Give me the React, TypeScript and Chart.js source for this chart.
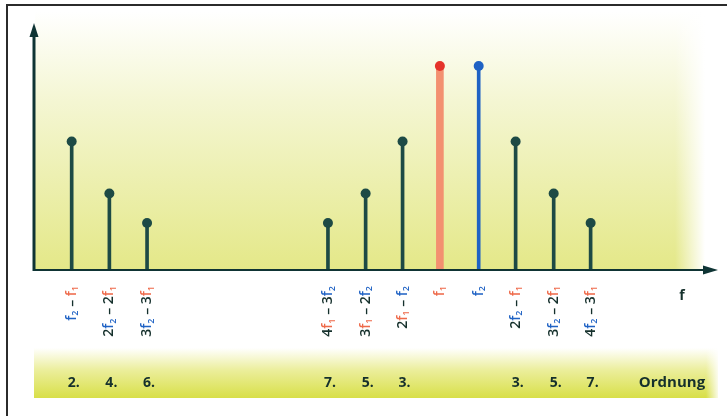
import React, { useEffect, useRef } from "react";
import { Chart, registerables } from "chart.js";

Chart.register(...registerables);

// ---- data ----
const productLabels = [
  "f2 – f1",
  "2f2 – 2f1",
  "3f2 – 3f1",
  "4f1 – 3f2",
  "3f1 – 2f2",
  "2f1 – f2",
  "f1",
  "f2",
  "2f2 – f1",
  "3f2 – 2f1",
  "4f2 – 3f1",
];
const xPositions = [1, 2, 3, 7.8, 8.8, 9.78, 10.77, 11.8, 12.78, 13.79, 14.77];
const amplitudes = [5.2, 3.1, 1.9, 1.9, 3.1, 5.2, 8.26, 8.26, 5.2, 3.1, 1.9];
const orders = ["2.", "4.", "6.", "7.", "5.", "3.", "", "", "3.", "5.", "7."];
const kinds = ["im", "im", "im", "im", "im", "im", "f1", "f2", "im", "im", "im"];
const orderTitle = "Ordnung";
const freqTitle = "f";
const xMax = 18.15;
const yMax = 10;

const DARK = "#1d4a45";
const RED_STEM = "#f39070";
const RED_DOT = "#e5332a";
const BLUE = "#1f62c4";
const TEXT_DARK = "#15302c";
const RED_TXT = "#ee6a4a";

function pointsFor(kind: string) {
  const pts: { x: number; y: number }[] = [];
  xPositions.forEach((x, i) => {
    if (kinds[i] === kind) pts.push({ x, y: amplitudes[i] });
  });
  return pts;
}

type Part = { t: string; c: string; sub?: boolean };
function parseLabel(s: string): Part[] {
  const parts: Part[] = [];
  for (let i = 0; i < s.length; i++) {
    const ch = s[i];
    if (ch === "f" && (s[i + 1] === "1" || s[i + 1] === "2")) {
      const col = s[i + 1] === "1" ? RED_TXT : BLUE;
      parts.push({ t: "f", c: col });
      parts.push({ t: s[i + 1], c: col, sub: true });
      i++;
    } else {
      parts.push({ t: ch, c: TEXT_DARK });
    }
  }
  return parts;
}

const decorPlugin = {
  id: "decor",
  beforeDraw(chart: any) {
    const ctx = chart.ctx as CanvasRenderingContext2D;
    const W = chart.width;
    const H = chart.height;
    const area = chart.chartArea;
    ctx.save();
    ctx.fillStyle = "#ffffff";
    ctx.fillRect(0, 0, W, H);

    // upper yellow background
    const x0 = area.left + 1;
    const g = ctx.createLinearGradient(0, 12, 0, area.bottom);
    g.addColorStop(0, "#ffffff");
    g.addColorStop(0.35, "#f4f6d2");
    g.addColorStop(1, "#e4e888");
    ctx.fillStyle = g;
    ctx.fillRect(x0, 12, 705 - x0, area.bottom - 12);
    const gr = ctx.createLinearGradient(675, 0, 705, 0);
    gr.addColorStop(0, "rgba(255,255,255,0)");
    gr.addColorStop(1, "rgba(255,255,255,1)");
    ctx.fillStyle = gr;
    ctx.fillRect(675, 12, 31, area.bottom - 12);

    // lower band
    const gb = ctx.createLinearGradient(0, 348, 0, 398);
    gb.addColorStop(0, "#ffffff");
    gb.addColorStop(0.45, "#ebee9a");
    gb.addColorStop(1, "#d8df48");
    ctx.fillStyle = gb;
    ctx.fillRect(area.left, 348, 718 - area.left, 50);
    const gbr = ctx.createLinearGradient(706, 0, 720, 0);
    gbr.addColorStop(0, "rgba(255,255,255,0)");
    gbr.addColorStop(1, "rgba(255,255,255,1)");
    ctx.fillStyle = gbr;
    ctx.fillRect(706, 348, 14, 50);

    // frame (top and left)
    ctx.strokeStyle = "#2b2b2b";
    ctx.lineWidth = 2;
    ctx.beginPath();
    ctx.moveTo(7, H);
    ctx.lineTo(7, 5);
    ctx.lineTo(W, 5);
    ctx.stroke();
    ctx.restore();
  },
  afterDatasetsDraw(chart: any) {
    const ctx = chart.ctx as CanvasRenderingContext2D;
    const area = chart.chartArea;
    const xs = chart.scales.x;
    ctx.save();
    // y axis with arrow
    ctx.strokeStyle = "#0f3434";
    ctx.fillStyle = "#0f3434";
    ctx.lineWidth = 3;
    ctx.beginPath();
    ctx.moveTo(area.left, area.bottom + 1);
    ctx.lineTo(area.left, area.top + 10);
    ctx.stroke();
    ctx.beginPath();
    ctx.moveTo(area.left, area.top);
    ctx.lineTo(area.left - 4.5, area.top + 14);
    ctx.lineTo(area.left + 4.5, area.top + 14);
    ctx.closePath();
    ctx.fill();
    // x axis with arrow
    ctx.lineWidth = 2;
    ctx.beginPath();
    ctx.moveTo(area.left, area.bottom);
    ctx.lineTo(area.right - 10, area.bottom);
    ctx.stroke();
    ctx.beginPath();
    ctx.moveTo(area.right, area.bottom);
    ctx.lineTo(area.right - 15, area.bottom - 4.5);
    ctx.lineTo(area.right - 15, area.bottom + 4.5);
    ctx.closePath();
    ctx.fill();

    // f label
    ctx.font = 'bold 14px "Open Sans"';
    ctx.textAlign = "center";
    ctx.textBaseline = "middle";
    ctx.fillStyle = TEXT_DARK;
    ctx.fillText(freqTitle, 682, 296);

    // rotated product labels
    const mainFont = '600 14px "Open Sans"';
    const subFont = '600 9px "Open Sans"';
    productLabels.forEach((lab, i) => {
      const px = xs.getPixelForValue(xPositions[i]);
      const parts = parseLabel(lab);
      let total = 0;
      const widths = parts.map((p) => {
        ctx.font = p.sub ? subFont : mainFont;
        const w = ctx.measureText(p.t).width;
        total += w;
        return w;
      });
      ctx.save();
      ctx.translate(px, 286);
      ctx.rotate(-Math.PI / 2);
      ctx.textAlign = "left";
      ctx.textBaseline = "middle";
      let cx = -total;
      parts.forEach((p, k) => {
        ctx.font = p.sub ? subFont : mainFont;
        ctx.fillStyle = p.c;
        ctx.fillText(p.t, cx, p.sub ? 4 : 0);
        cx += widths[k];
      });
      ctx.restore();
    });

    // order labels
    ctx.font = 'bold 14px "Open Sans"';
    ctx.fillStyle = TEXT_DARK;
    ctx.textAlign = "center";
    ctx.textBaseline = "middle";
    orders.forEach((o, i) => {
      if (!o) return;
      ctx.fillText(o, xs.getPixelForValue(xPositions[i]) + 2, 383);
    });
    ctx.font = 'bold 15px "Open Sans"';
    ctx.fillText(orderTitle, 672, 383);
    ctx.restore();
  },
};

export default function App() {
  const ref = useRef<HTMLCanvasElement | null>(null);
  useEffect(() => {
    document.body.style.margin = "0";
    if (!ref.current) return;
    const chart = new Chart(ref.current, {
      type: "bar",
      data: {
        datasets: [
          {
            type: "line",
            data: pointsFor("im"),
            showLine: false,
            pointRadius: 5,
            pointBackgroundColor: DARK,
            pointBorderWidth: 0,
            order: 0,
          } as any,
          {
            type: "line",
            data: pointsFor("f1"),
            showLine: false,
            pointRadius: 5,
            pointBackgroundColor: RED_DOT,
            pointBorderWidth: 0,
            order: 0,
          } as any,
          {
            type: "line",
            data: pointsFor("f2"),
            showLine: false,
            pointRadius: 5,
            pointBackgroundColor: BLUE,
            pointBorderWidth: 0,
            order: 0,
          } as any,
          {
            type: "bar",
            data: pointsFor("im"),
            backgroundColor: DARK,
            barThickness: 3,
            grouped: false,
            order: 1,
          } as any,
          {
            type: "bar",
            data: pointsFor("f1"),
            backgroundColor: RED_STEM,
            barThickness: 7,
            grouped: false,
            order: 1,
          } as any,
          {
            type: "bar",
            data: pointsFor("f2"),
            backgroundColor: BLUE,
            barThickness: 3,
            grouped: false,
            order: 1,
          } as any,
        ],
      },
      options: {
        animation: false,
        responsive: false,
        events: [],
        layout: { padding: { left: 34, right: 9, top: 23, bottom: 146 } },
        plugins: { legend: { display: false }, tooltip: { enabled: false } },
        scales: {
          x: { type: "linear", min: 0, max: xMax, display: false, offset: false },
          y: { type: "linear", min: 0, max: yMax, display: false },
        },
      },
      plugins: [decorPlugin],
    });
    return () => chart.destroy();
  }, []);
  return (
    <div style={{ position: "fixed", left: 0, top: 0 }}>
      <canvas ref={ref} width={727} height={416} style={{ width: 727, height: 416, display: "block" }} />
    </div>
  );
}
